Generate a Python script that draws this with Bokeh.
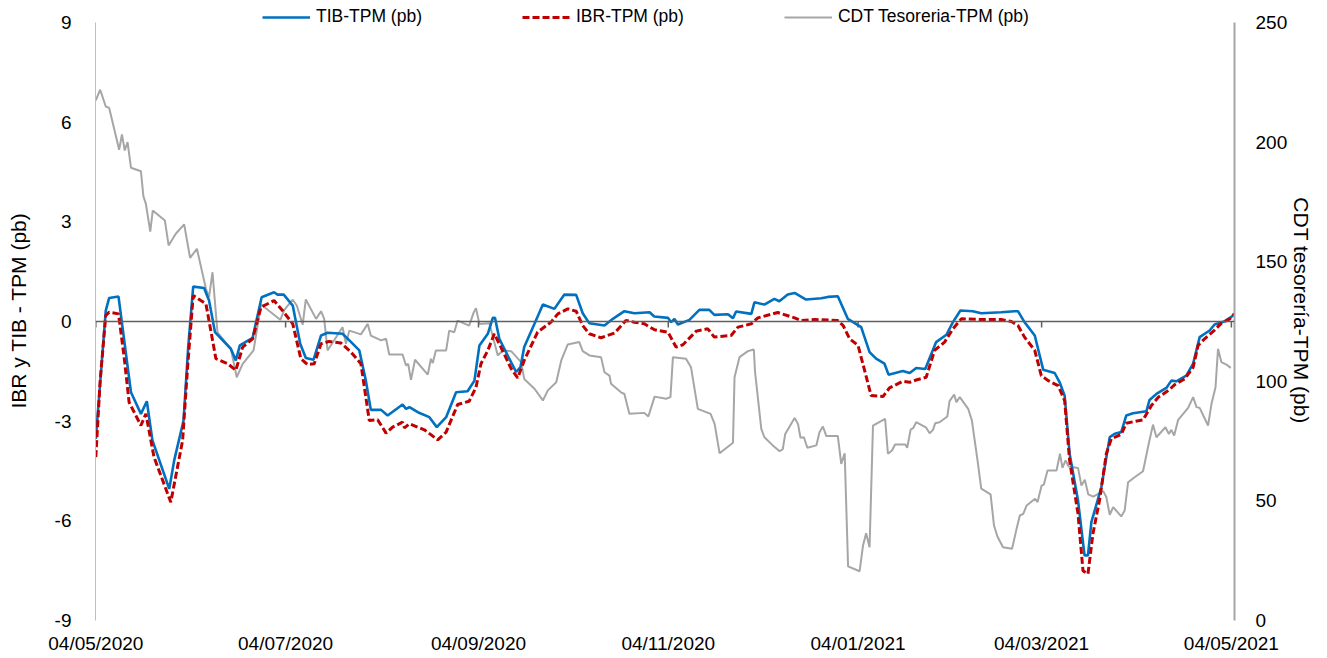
import pandas as pd
from bokeh.plotting import figure
from bokeh.models import (Range1d, LinearAxis, FixedTicker, DatetimeTickFormatter,
                          Span, Legend, LegendItem)
from bokeh.embed import file_html
from bokeh.resources import INLINE

# ---------------- data (days since 04/05/2020) ----------------
START = "2020-05-04"

tib_day = [0, 3.2, 4.3, 7.3, 11.3, 14.5, 16.4, 18.2, 23.6, 25.2,
           28.2, 29.7, 31.3, 34.8, 36.4, 38.3, 43.4, 45.0, 46.3, 50.4,
           53.3, 57.3, 58.4, 60.4, 63.3, 65.7, 67.5, 70.0, 72.4, 74.5,
           79.3, 81.5, 84.7, 86.8, 88.4, 91.7, 93.8, 98.6, 99.7, 100.8,
           103.5, 107.2, 109.6, 112.6, 115.8, 119.5, 121.7, 123.3, 126.0, 127.6,
           128.3, 129.7, 132.9, 135.1, 136.5, 137.7, 141.0, 143.7, 147.4, 150.6,
           154.4, 156.5, 158.6, 163.5, 166.2, 169.9, 173.1, 178.0, 179.5, 183.9,
           184.9, 186.0, 187.1, 190.8, 194.0, 197.2, 198.8, 203.2, 204.8, 205.8,
           210.7, 211.7, 214.9, 218.1, 219.7, 222.4, 224.6, 228.3, 233.2, 235.3,
           238.5, 241.7, 246.0, 248.7, 250.8, 253.5, 254.8, 259.4, 261.6, 263.7,
           266.6, 270.1, 273.4, 275.5, 277.9, 281.9, 284.6, 291.0, 295.3, 296.4,
           298.5, 301.8, 304.5, 308.2, 309.8, 311.4, 313.0, 315.7, 317.8, 318.9,
           320.0, 323.2, 325.9, 327.5, 329.6, 331.2, 333.4, 337.7, 338.7, 340.9,
           344.1, 345.7, 347.3, 350.5, 352.7, 354.8, 358.0, 359.6, 362.9, 365.6]
tib_val = [-3.53, 0.33, 0.71, 0.75, -2.13, -2.78, -2.40, -3.58, -5.04, -4.18,
           -2.98, -0.77, 1.05, 1.01, 0.63, -0.32, -0.82, -1.17, -0.72, -0.49,
           0.73, 0.88, 0.81, 0.81, 0.48, -0.67, -1.10, -1.15, -0.42, -0.34,
           -0.37, -0.57, -0.87, -1.78, -2.66, -2.66, -2.83, -2.50, -2.63, -2.58,
           -2.73, -2.88, -3.18, -2.88, -2.13, -2.10, -1.78, -0.72, -0.37, 0.11,
           0.11, -0.52, -1.12, -1.52, -1.37, -0.77, -0.07, 0.51, 0.38, 0.81,
           0.80, 0.25, -0.05, -0.12, 0.08, 0.31, 0.25, 0.28, 0.15, 0.11,
           -0.02, 0.08, -0.09, 0.05, 0.35, 0.35, 0.20, 0.22, 0.10, 0.30,
           0.23, 0.58, 0.51, 0.68, 0.61, 0.81, 0.86, 0.66, 0.70, 0.74,
           0.76, 0.08, -0.17, -0.92, -1.12, -1.27, -1.60, -1.49, -1.55, -1.40,
           -1.43, -0.62, -0.40, -0.02, 0.33, 0.31, 0.25, 0.28, 0.31, 0.31,
           -0.02, -0.42, -1.45, -1.55, -1.83, -2.23, -3.98, -5.39, -7.04, -7.04,
           -6.04, -4.99, -3.48, -3.38, -3.33, -2.83, -2.76, -2.70, -2.36, -2.18,
           -2.00, -1.78, -1.80, -1.63, -1.27, -0.47, -0.27, -0.09, 0.01, 0.18]

ibr_day = [0, 1.4, 3.2, 4.3, 7.3, 9.1, 10.7, 14.5, 16.1, 18.7,
           24.1, 27.9, 29.5, 31.3, 35.4, 38.6, 42.4, 45.0, 47.2, 50.4,
           53.1, 57.3, 60.0, 63.3, 65.9, 68.1, 70.2, 72.4, 75.0, 78.8,
           82.0, 85.2, 87.9, 90.6, 93.3, 95.4, 98.6, 99.2, 100.8, 105.6,
           109.9, 112.6, 116.3, 120.0, 122.2, 123.8, 126.0, 128.1, 130.2, 133.5,
           135.6, 137.7, 142.0, 146.3, 148.5, 151.7, 154.4, 156.5, 158.6, 162.4,
           166.7, 170.4, 173.1, 176.3, 179.6, 183.9, 186.5, 188.7, 193.0, 196.7,
           198.8, 204.2, 206.4, 210.7, 212.8, 219.2, 224.6, 226.7, 231.0, 238.5,
           240.2, 242.3, 245.0, 247.1, 249.2, 253.0, 255.1, 259.4, 261.6, 263.7,
           266.9, 269.6, 272.8, 275.5, 278.2, 284.6, 291.0, 294.3, 296.4, 298.5,
           301.8, 303.9, 306.1, 309.3, 311.4, 313.0, 315.7, 317.3, 318.9, 320.5,
           322.6, 324.8, 326.4, 329.6, 331.2, 336.6, 339.3, 341.5, 344.7, 346.8,
           350.0, 352.7, 354.3, 356.4, 359.7, 361.8, 364.5, 365.9]
ibr_val = [-4.08, -1.78, 0.18, 0.28, 0.23, -1.07, -2.43, -3.13, -2.78, -4.08,
           -5.44, -3.58, -1.37, 0.78, 0.53, -1.12, -1.27, -1.47, -0.77, -0.52,
           0.43, 0.63, 0.33, -0.07, -1.12, -1.30, -1.27, -0.67, -0.60, -0.65,
           -0.92, -1.27, -2.98, -2.96, -3.36, -3.18, -3.03, -3.20, -3.08, -3.26,
           -3.56, -3.33, -2.50, -2.40, -1.98, -1.27, -0.87, -0.37, -0.77, -1.42,
           -1.70, -1.17, -0.32, -0.02, 0.23, 0.38, 0.31, -0.12, -0.37, -0.49,
           -0.35, 0.03, -0.02, -0.07, -0.25, -0.32, -0.77, -0.70, -0.29, -0.22,
           -0.47, -0.42, -0.17, -0.07, 0.11, 0.27, 0.11, 0.03, 0.06, 0.03,
           -0.12, -0.52, -0.72, -1.47, -2.23, -2.26, -2.00, -1.80, -1.83, -1.76,
           -1.68, -0.87, -0.62, -0.22, 0.08, 0.06, 0.06, 0.00, -0.12, -0.47,
           -0.87, -1.63, -1.78, -1.93, -2.38, -4.18, -5.79, -7.50, -7.60, -6.39,
           -5.39, -3.98, -3.53, -3.40, -3.06, -2.96, -2.53, -2.28, -2.08, -1.90,
           -1.73, -1.38, -0.72, -0.52, -0.25, -0.05, 0.08, 0.23]

cdt_day = [0, 1.4, 3.2, 4.3, 7.5, 8.4, 9.3, 10.2, 11.3, 14.5,
           15.3, 16.1, 17.5, 18.3, 22.2, 23.4, 25.7, 28.4, 30.3, 32.5,
           35.4, 36.4, 37.5, 39.1, 43.4, 45.3, 47.2, 50.7, 53.1, 59.3,
           60.6, 63.3, 64.6, 66.5, 67.5, 70.8, 72.4, 73.4, 74.5, 79.3,
           80.4, 81.5, 85.2, 87.4, 88.4, 91.7, 93.3, 94.3, 98.6, 99.7,
           100.4, 101.3, 102.6, 106.7, 107.7, 108.3, 109.3, 112.6, 113.6, 115.2,
           116.3, 120.0, 121.5, 122.2, 123.3, 126.5, 129.2, 130.8, 133.5, 136.7,
           137.7, 141.0, 143.7, 145.3, 148.0, 149.6, 151.7, 155.4, 156.5, 158.7,
           162.4, 163.5, 165.1, 165.6, 168.8, 169.9, 171.5, 176.3, 177.6, 179.6,
           183.3, 184.7, 185.5, 189.7, 191.3, 193.5, 197.6, 198.9, 200.5, 204.8,
           205.3, 206.9, 209.6, 211.5, 211.9, 213.9, 214.9, 217.6, 219.8, 220.8,
           221.6, 224.6, 225.7, 226.5, 227.6, 228.7, 231.6, 232.6, 233.7, 234.8,
           238.5, 239.6, 240.7, 241.8, 245.5, 246.6, 247.6, 248.7, 249.8, 253.7,
           254.6, 255.9, 256.9, 260.2, 260.8, 261.9, 262.7, 263.7, 266.9, 268.0,
           269.1, 269.8, 271.2, 273.7, 274.4, 275.9, 276.6, 277.7, 280.4, 281.6,
           283.4, 284.6, 287.6, 288.7, 289.8, 291.6, 294.5, 295.9, 297.0, 298.1,
           299.2, 301.9, 302.7, 304.0, 304.7, 305.9, 308.8, 309.9, 310.7, 311.7,
           312.7, 315.7, 316.8, 317.9, 319.0, 320.6, 323.8, 324.8, 325.9, 327.0,
           329.6, 330.7, 331.8, 333.9, 336.6, 338.2, 339.8, 340.9, 343.8, 344.9,
           345.7, 346.6, 347.9, 351.1, 352.7, 353.8, 354.8, 357.5, 358.6, 359.9,
           360.7, 361.8, 363.4, 364.8]
cdt_val = [217.4, 221.9, 214.9, 214.3, 196.8, 203.2, 196.5, 200.0, 189.3, 187.8,
           177.3, 174.2, 162.6, 171.4, 167.2, 156.8, 161.7, 165.6, 151.6, 155.4,
           138.7, 135.2, 145.6, 120.5, 113.6, 101.7, 107.3, 112.9, 132.1, 125.7,
           129.9, 134.1, 131.7, 123.7, 134.2, 126.1, 129.3, 126.1, 112.9, 122.6,
           115.7, 121.2, 119.6, 124.0, 119.1, 117.1, 117.8, 111.2, 111.2, 106.6,
           107.3, 100.6, 109.0, 102.8, 109.4, 107.6, 112.9, 112.9, 121.2, 120.5,
           125.4, 123.3, 128.9, 130.6, 124.0, 124.3, 110.8, 112.9, 112.6, 108.0,
           101.0, 96.9, 92.0, 96.2, 99.6, 108.7, 115.4, 116.4, 112.6, 110.8,
           110.1, 103.8, 102.4, 99.0, 95.4, 94.7, 86.4, 86.8, 85.3, 93.6,
           92.7, 93.4, 110.1, 109.4, 105.9, 88.5, 86.4, 82.2, 69.9, 74.3,
           101.7, 110.1, 112.6, 113.3, 103.8, 80.1, 76.6, 73.2, 70.8, 71.6,
           78.0, 84.7, 82.2, 76.4, 76.6, 72.2, 73.2, 78.7, 81.1, 77.1,
           77.1, 65.5, 69.9, 22.6, 20.6, 31.4, 36.5, 30.6, 81.5, 84.3,
           69.7, 71.1, 73.6, 73.6, 72.2, 79.8, 80.4, 82.9, 80.6, 78.3,
           79.7, 82.5, 82.9, 85.3, 91.7, 94.5, 91.3, 93.4, 88.5, 83.6,
           66.9, 55.1, 52.7, 39.7, 35.1, 30.6, 30.0, 38.0, 43.9, 44.6,
           48.1, 50.9, 49.5, 56.4, 56.8, 62.7, 62.7, 69.7, 63.8, 66.9,
           64.4, 63.8, 56.4, 58.8, 52.7, 51.8, 54.1, 51.6, 44.2, 47.4,
           43.5, 46.0, 57.8, 59.9, 62.4, 72.5, 81.9, 76.6, 80.8, 78.0,
           79.7, 77.3, 83.9, 88.9, 93.4, 89.2, 88.9, 81.5, 90.6, 97.5,
           113.6, 108.0, 107.0, 105.6]

x_tick_labels = ["04/05/2020", "04/07/2020", "04/09/2020", "04/11/2020",
                 "04/01/2021", "04/03/2021", "04/05/2021"]
left_ticks = [-9, -6, -3, 0, 3, 6, 9]
right_ticks = [0, 50, 100, 150, 200, 250]

series_names = ["TIB-TPM (pb)", "IBR-TPM (pb)", "CDT Tesoreria-TPM (pb)"]
left_title = "IBR y TIB - TPM (pb)"
right_title = "CDT tesorería-TPM (pb)"

# ---------------- helpers ----------------
start = pd.Timestamp(START)
EPOCH = pd.Timestamp("1970-01-01")


def to_ms(days):
    ts = start + pd.to_timedelta(days, unit="D")
    return list((ts - EPOCH) / pd.Timedelta(milliseconds=1))


tick_ms = list((pd.to_datetime(x_tick_labels, format="%d/%m/%Y") - EPOCH)
               / pd.Timedelta(milliseconds=1))

FONT = "Liberation Sans"
TXT = "#000000"

# layout in pixels: axes span from y=22 (top value) to y=620 (bottom value);
# the frame is stretched to the canvas top so the legend (drawn in the frame)
# can sit above the axes' top value.
AX_TOP, AX_BOTTOM = 22, 620
lo_l, hi_l = min(left_ticks), max(left_ticks)
lo_r, hi_r = min(right_ticks), max(right_ticks)
extra_l = (hi_l - lo_l) * AX_TOP / (AX_BOTTOM - AX_TOP)
extra_r = (hi_r - lo_r) * AX_TOP / (AX_BOTTOM - AX_TOP)

p = figure(width=1320, height=658, output_backend="svg", toolbar_location=None,
           x_axis_type="datetime",
           x_range=Range1d(to_ms([-0.1])[0], to_ms([366.0])[0]),
           y_range=Range1d(lo_l, hi_l + extra_l),
           min_border_left=95, min_border_right=86,
           min_border_top=0, min_border_bottom=38)
p.extra_y_ranges = {"cdt": Range1d(lo_r, hi_r + extra_r)}
p.xgrid.visible = False
p.ygrid.visible = False
p.outline_line_color = None
p.background_fill_color = "white"
p.border_fill_color = "white"

# series
r_cdt = p.line(to_ms(cdt_day), cdt_val, y_range_name="cdt",
               line_color="#A6A6A6", line_width=2)
p.add_layout(Span(location=0, dimension="width", line_color="#5F5F5F",
                  line_width=1.5))
p.segment(x0=tick_ms, y0=[0] * len(tick_ms), x1=tick_ms,
          y1=[-0.18] * len(tick_ms), line_color="#5F5F5F", line_width=1.5)
r_tib = p.line(to_ms(tib_day), tib_val, line_color="#0070C0", line_width=2.6)
r_ibr = p.line(to_ms(ibr_day), ibr_val, line_color="#C00000", line_width=3,
               line_dash="7 3")

# x axis
xa = p.xaxis[0]
xa.ticker = FixedTicker(ticks=tick_ms)
xa.formatter = DatetimeTickFormatter(days="%d/%m/%Y", months="%d/%m/%Y",
                                     years="%d/%m/%Y")
xa.axis_line_color = None
xa.major_tick_line_color = None
xa.minor_tick_line_color = None
xa.major_label_standoff = 6
xa.major_label_text_font = FONT
xa.major_label_text_font_size = "19px"
xa.major_label_text_color = TXT

# left axis
ya = p.yaxis[0]
ya.ticker = FixedTicker(ticks=left_ticks)
ya.bounds = (lo_l, hi_l)
ya.major_label_overrides = {t: str(t) for t in left_ticks}
ya.axis_line_color = "#BFBFBF"
ya.axis_line_width = 1
ya.major_tick_line_color = None
ya.minor_tick_line_color = None
ya.major_label_standoff = 18
ya.major_label_text_font = FONT
ya.major_label_text_font_size = "19px"
ya.major_label_text_color = TXT
ya.axis_label = left_title
ya.axis_label_text_font = FONT
ya.axis_label_text_font_size = "21px"
ya.axis_label_text_font_style = "normal"
ya.axis_label_text_color = TXT
ya.axis_label_standoff = 22

# right axis
ra = LinearAxis(y_range_name="cdt", ticker=FixedTicker(ticks=right_ticks),
                bounds=(lo_r, hi_r))
ra.axis_line_color = "#A6A6A6"
ra.axis_line_width = 2
ra.major_tick_line_color = None
ra.minor_tick_line_color = None
ra.major_label_standoff = 15
ra.major_label_text_font = FONT
ra.major_label_text_font_size = "19px"
ra.major_label_text_color = TXT
ra.axis_label = right_title
ra.axis_label_text_font = FONT
ra.axis_label_text_font_size = "21px"
ra.axis_label_text_font_style = "normal"
ra.axis_label_text_color = TXT
ra.axis_label_standoff = 0
p.add_layout(ra, "right")

# legend
legend = Legend(items=[LegendItem(label=series_names[0], renderers=[r_tib]),
                       LegendItem(label=series_names[1], renderers=[r_ibr]),
                       LegendItem(label=series_names[2], renderers=[r_cdt])],
                orientation="horizontal", location=(167, 593),
                glyph_width=48, glyph_height=20, label_standoff=6,
                spacing=100, padding=0, margin=0,
                border_line_color=None, background_fill_alpha=0,
                label_text_font=FONT, label_text_font_size="17.5px",
                label_text_color=TXT)
p.add_layout(legend)

open("out.html", "w").write(file_html(p, INLINE))
